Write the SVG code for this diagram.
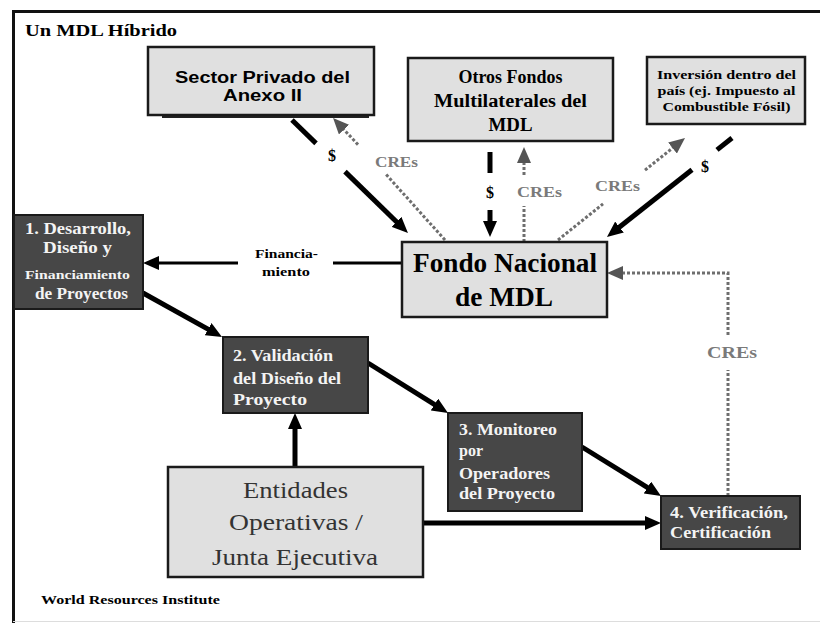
<svg xmlns="http://www.w3.org/2000/svg" width="820" height="623" viewBox="0 0 820 623">
<defs>
<style>
.frame{stroke:#111;stroke-width:3;fill:none}
.light{fill:#e0e0e0;stroke:#1a1a1a;stroke-width:2.5}
.dark{fill:#474747;stroke:#1a1a1a;stroke-width:2}
.serif{font-family:"Liberation Serif","Times New Roman",serif;font-weight:bold}
.wt{fill:#f4f4f4}
.blk{stroke:#000;stroke-width:5;fill:none}
.gry{stroke:#6e6e6e;stroke-width:3;fill:none;stroke-dasharray:3 2}
.glab{fill:#7a7a7a}
</style>
<marker id="ab" viewBox="0 0 16 14" refX="6" refY="7" markerWidth="16" markerHeight="14" markerUnits="userSpaceOnUse" orient="auto"><path d="M0,0 L16,7 L0,14 z" fill="#000"/></marker>
<marker id="ag" viewBox="0 0 16 14" refX="6" refY="7" markerWidth="16" markerHeight="14" markerUnits="userSpaceOnUse" orient="auto"><path d="M0,0 L16,7 L0,14 z" fill="#555"/></marker>
</defs>
<rect width="820" height="623" fill="#fff"/>
<path class="frame" d="M13.5,623 V11.5 H820"/>
<line x1="13" y1="621.5" x2="820" y2="621.5" stroke="#ddd" stroke-width="1"/>
<text class="serif" x="25" y="36" font-size="17" textLength="152" lengthAdjust="spacingAndGlyphs">Un MDL Híbrido</text>

<g id="connectors">
<!-- $ from Sector Privado -->
<line class="blk" x1="292" y1="120" x2="316" y2="143.4"/>
<line class="blk" x1="345" y1="171.6" x2="400.8" y2="226" marker-end="url(#ab)"/>
<text class="serif" x="332" y="161" font-size="16" text-anchor="middle">$</text>
<!-- CREs to Sector Privado -->
<line class="gry" x1="445" y1="240" x2="385" y2="173.2"/>
<line class="gry" x1="358" y1="144.6" x2="339.9" y2="125.3" marker-end="url(#ag)"/>
<text class="serif glab" x="396.5" y="167" font-size="15" text-anchor="middle" textLength="43" lengthAdjust="spacingAndGlyphs">CREs</text>
<!-- $ from Otros Fondos -->
<line class="blk" x1="490" y1="152" x2="490" y2="173"/>
<line class="blk" x1="490" y1="210" x2="490" y2="227" marker-end="url(#ab)"/>
<text class="serif" x="490" y="198" font-size="16" text-anchor="middle">$</text>
<!-- CREs to Otros Fondos -->
<line class="gry" x1="524" y1="242" x2="524" y2="206"/>
<line class="gry" x1="524" y1="175" x2="524" y2="157" marker-end="url(#ag)"/>
<text class="serif glab" x="539.5" y="197" font-size="15" text-anchor="middle" textLength="45" lengthAdjust="spacingAndGlyphs">CREs</text>
<!-- CREs to Inversión -->
<line class="gry" x1="558" y1="240" x2="603" y2="203.9"/>
<line class="gry" x1="645" y1="170.1" x2="677.2" y2="144.3" marker-end="url(#ag)"/>
<text class="serif glab" x="617.5" y="191" font-size="15" text-anchor="middle" textLength="45" lengthAdjust="spacingAndGlyphs">CREs</text>
<!-- $ from Inversión -->
<line class="blk" x1="732" y1="138" x2="717" y2="149.9"/>
<line class="blk" x1="692" y1="169.7" x2="614.8" y2="230.8" marker-end="url(#ab)"/>
<text class="serif" x="705" y="172" font-size="16" text-anchor="middle">$</text>
<!-- Financiamiento -->
<line stroke="#000" stroke-width="3" x1="402" y1="263" x2="333" y2="263"/>
<line stroke="#000" stroke-width="3" x1="238" y1="263" x2="153" y2="263" marker-end="url(#ab)"/>
<text class="serif" x="286.5" y="258" font-size="12" text-anchor="middle" textLength="63" lengthAdjust="spacingAndGlyphs">Financia-</text>
<text class="serif" x="286" y="276" font-size="12" text-anchor="middle" textLength="48" lengthAdjust="spacingAndGlyphs">miento</text>
<!-- flow -->
<line class="blk" x1="143" y1="293" x2="213.3" y2="332.1" marker-end="url(#ab)"/>
<line class="blk" x1="368" y1="363" x2="439.5" y2="407.7" marker-end="url(#ab)"/>
<line class="blk" x1="582" y1="447" x2="652.5" y2="490.7" marker-end="url(#ab)"/>
<line class="blk" x1="423" y1="523" x2="651" y2="523" marker-end="url(#ab)"/>
<line class="blk" x1="295" y1="467" x2="295" y2="423" marker-end="url(#ab)"/>
<!-- CREs from Verificación -->
<line class="gry" x1="728" y1="496" x2="728" y2="370"/>
<path class="gry" d="M728,335 V273 H617" marker-end="url(#ag)"/>
<text class="serif glab" x="732" y="358" font-size="17" text-anchor="middle" textLength="50" lengthAdjust="spacingAndGlyphs">CREs</text>
</g>

<g id="sector-privado">
<rect x="162" y="114" width="207" height="4" fill="#222"/>
<rect class="light" x="148" y="47" width="226" height="68" stroke="#333" stroke-width="2"/>
<text x="262.5" y="83" font-family="Liberation Sans, Arial, sans-serif" font-weight="bold" font-size="16" text-anchor="middle" textLength="175" lengthAdjust="spacingAndGlyphs">Sector Privado del</text>
<text x="262.5" y="101" font-family="Liberation Sans, Arial, sans-serif" font-weight="bold" font-size="16" text-anchor="middle" textLength="79" lengthAdjust="spacingAndGlyphs">Anexo II</text>
</g>

<g id="otros-fondos">
<rect class="light" x="408" y="58" width="205" height="83" stroke-width="3.5"/>
<text class="serif" x="510.5" y="83" font-size="18" text-anchor="middle" textLength="104" lengthAdjust="spacingAndGlyphs">Otros Fondos</text>
<text class="serif" x="510.5" y="107" font-size="18" text-anchor="middle" textLength="153" lengthAdjust="spacingAndGlyphs">Multilaterales del</text>
<text class="serif" x="510.5" y="131" font-size="18" text-anchor="middle" textLength="44" lengthAdjust="spacingAndGlyphs">MDL</text>
</g>

<g id="inversion">
<rect class="light" x="647" y="57" width="158" height="67" stroke-width="2.5"/>
<text class="serif" x="726.5" y="79" font-size="13" text-anchor="middle" textLength="139" lengthAdjust="spacingAndGlyphs">Inversión dentro del</text>
<text class="serif" x="726.5" y="95" font-size="13" text-anchor="middle" textLength="138" lengthAdjust="spacingAndGlyphs">país (ej. Impuesto al</text>
<text class="serif" x="726.5" y="111" font-size="13" text-anchor="middle" textLength="128" lengthAdjust="spacingAndGlyphs">Combustible Fósil)</text>
</g>

<g id="fondo-nacional">
<rect class="light" x="402" y="242" width="205" height="75" stroke-width="2"/>
<text class="serif" x="505" y="272" font-size="27" text-anchor="middle" textLength="184" lengthAdjust="spacingAndGlyphs">Fondo Nacional</text>
<text class="serif" x="504" y="306" font-size="27" text-anchor="middle" textLength="98" lengthAdjust="spacingAndGlyphs">de MDL</text>
</g>

<g id="paso-1">
<rect class="dark" x="14" y="215" width="129" height="94"/>
<text class="serif wt" x="78" y="234" font-size="17" text-anchor="middle" textLength="106" lengthAdjust="spacingAndGlyphs">1. Desarrollo,</text>
<text class="serif wt" x="77.5" y="253" font-size="17" text-anchor="middle" textLength="69" lengthAdjust="spacingAndGlyphs">Diseño y</text>
<text class="serif wt" x="77.5" y="279" font-size="13" text-anchor="middle" textLength="105" lengthAdjust="spacingAndGlyphs">Financiamiento</text>
<text class="serif wt" x="81.5" y="299" font-size="17" text-anchor="middle" textLength="93" lengthAdjust="spacingAndGlyphs">de Proyectos</text>
</g>

<g id="paso-2">
<rect class="dark" x="223" y="337" width="145" height="76"/>
<text class="serif wt" x="233" y="361" font-size="17" textLength="100" lengthAdjust="spacingAndGlyphs">2. Validación</text>
<text class="serif wt" x="233" y="384" font-size="17" textLength="108" lengthAdjust="spacingAndGlyphs">del Diseño del</text>
<text class="serif wt" x="233" y="405" font-size="17" textLength="74" lengthAdjust="spacingAndGlyphs">Proyecto</text>
</g>

<g id="paso-3">
<rect class="dark" x="448" y="413" width="134" height="98"/>
<text class="serif wt" x="459" y="435" font-size="17" textLength="98" lengthAdjust="spacingAndGlyphs">3. Monitoreo</text>
<text class="serif wt" x="459" y="456" font-size="17" textLength="24" lengthAdjust="spacingAndGlyphs">por</text>
<text class="serif wt" x="459" y="479" font-size="17" textLength="91" lengthAdjust="spacingAndGlyphs">Operadores</text>
<text class="serif wt" x="459" y="499" font-size="17" textLength="96" lengthAdjust="spacingAndGlyphs">del Proyecto</text>
</g>

<g id="paso-4">
<rect class="dark" x="661" y="496" width="139" height="53"/>
<text class="serif wt" x="670" y="518" font-size="17" textLength="118" lengthAdjust="spacingAndGlyphs">4. Verificación,</text>
<text class="serif wt" x="670" y="538" font-size="17" textLength="101" lengthAdjust="spacingAndGlyphs">Certificación</text>
</g>

<g id="entidades">
<rect class="light" x="168" y="467" width="255" height="110" stroke-width="3"/>
<text x="295.5" y="498" font-family="Liberation Serif, Times New Roman, serif" font-size="24" fill="#333" text-anchor="middle" textLength="105" lengthAdjust="spacingAndGlyphs">Entidades</text>
<text x="296" y="530" font-family="Liberation Serif, Times New Roman, serif" font-size="24" fill="#333" text-anchor="middle" textLength="134" lengthAdjust="spacingAndGlyphs">Operativas /</text>
<text x="295" y="565" font-family="Liberation Serif, Times New Roman, serif" font-size="24" fill="#333" text-anchor="middle" textLength="166" lengthAdjust="spacingAndGlyphs">Junta Ejecutiva</text>
</g>

<text class="serif" x="41" y="604" font-size="12" textLength="179" lengthAdjust="spacingAndGlyphs">World Resources Institute</text>
</svg>
